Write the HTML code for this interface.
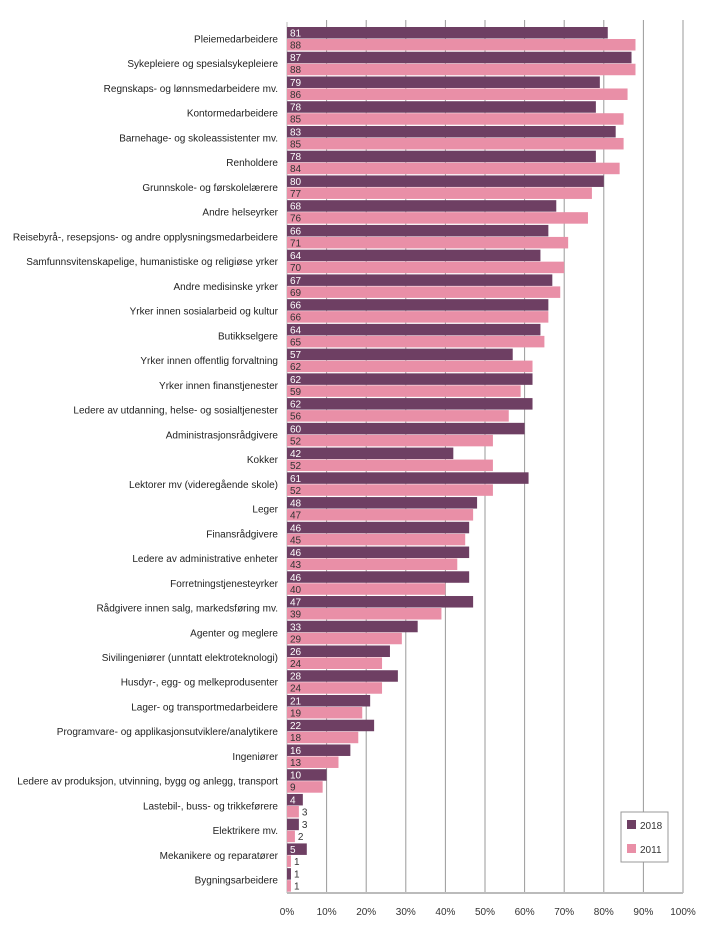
<!DOCTYPE html>
<html><head><meta charset="utf-8"><style>
body{margin:0;background:#fff;font-family:"Liberation Sans",sans-serif}
svg text{font-family:"Liberation Sans",sans-serif}
</style></head><body>
<svg id="chart" width="719" height="936" xmlns="http://www.w3.org/2000/svg"></svg>
<script>
const categories=["Pleiemedarbeidere","Sykepleiere og spesialsykepleiere","Regnskaps- og lønnsmedarbeidere mv.","Kontormedarbeidere","Barnehage- og skoleassistenter mv.","Renholdere","Grunnskole- og førskolelærere","Andre helseyrker","Reisebyrå-, resepsjons- og andre opplysningsmedarbeidere","Samfunnsvitenskapelige, humanistiske og religiøse yrker","Andre medisinske yrker","Yrker innen sosialarbeid og kultur","Butikkselgere","Yrker innen offentlig forvaltning","Yrker innen finanstjenester","Ledere av utdanning, helse- og sosialtjenester","Administrasjonsrådgivere","Kokker","Lektorer mv (videregående skole)","Leger","Finansrådgivere","Ledere av administrative enheter","Forretningstjenesteyrker","Rådgivere innen salg, markedsføring mv.","Agenter og meglere","Sivilingeniører (unntatt elektroteknologi)","Husdyr-, egg- og melkeprodusenter","Lager- og transportmedarbeidere","Programvare- og applikasjonsutviklere/analytikere","Ingeniører","Ledere av produksjon, utvinning, bygg og anlegg, transport","Lastebil-, buss- og trikkeførere","Elektrikere mv.","Mekanikere og reparatører","Bygningsarbeidere"];
const values2018=[81,87,79,78,83,78,80,68,66,64,67,66,64,57,62,62,60,42,61,48,46,46,46,47,33,26,28,21,22,16,10,4,3,5,1];
const values2011=[88,88,86,85,85,84,77,76,71,70,69,66,65,62,59,56,52,52,52,47,45,43,40,39,29,24,24,19,18,13,9,3,2,1,1];
const ticks=[0,10,20,30,40,50,60,70,80,90,100];

const svg=document.getElementById('chart');
const NS="http://www.w3.org/2000/svg";
const x0=287,x1=683,top0=27,pitch=24.74,bh=11.5,axisY=893;
const xs=v=>x0+(x1-x0)*v/100;
const ys=i=>top0+i*pitch;
function mk(t,a,txt){const e=document.createElementNS(NS,t);for(const k in a)e.setAttribute(k,a[k]);if(txt!=null)e.textContent=txt;svg.appendChild(e);return e;}

ticks.forEach(t=>{
  if(t>0){const g=mk('line',{x1:xs(t),x2:xs(t),y1:20,y2:axisY,stroke:'#9a9a9a','stroke-width':1});
  
  }
  const l=mk('text',{x:xs(t),y:915,'font-size':10,'text-anchor':'middle',fill:'#333'},t+'%');
  
  
});
const ax=mk('line',{x1:x0,x2:x1,y1:axisY,y2:axisY,stroke:'#bbb','stroke-width':2});


const ax2=mk('line',{x1:x0,x2:x0,y1:22,y2:axisY,stroke:'#bbb','stroke-width':1});



categories.forEach((c,i)=>{
  const y=ys(i);
  const cl=mk('text',{x:278,y:y+bh+4,'font-size':10,'text-anchor':'end',fill:'#222'},c);
  
  
  [[values2018[i],'#6e3f63','#fff',0,'bar-2018'],[values2011[i],'#e98fa7','#333',bh+0.5,'bar-2011']].forEach(([v,col,tc,off,nm])=>{
    const b=mk('rect',{x:x0,y:y+off,width:xs(v)-x0,height:bh,fill:col});
    
    
    const w=xs(v)-x0;
    const inside=w>12;
    const t=mk('text',{x:inside?x0+3:xs(v)+3,y:y+off+bh-2,'font-size':10,fill:inside?tc:'#333'},v);
    
    
  });
});

const lg=mk('rect',{x:621,y:812,width:47,height:50,fill:'#fff',stroke:'#999'});


[['2018','#6e3f63',820],['2011','#e98fa7',844]].forEach(([n,c,y])=>{
  const s=mk('rect',{x:627,y:y,width:9,height:9,fill:c});
  
  
  const t=mk('text',{x:640,y:y+9,'font-size':10,fill:'#333'},n);
  
  
});
</script>
</body></html>
